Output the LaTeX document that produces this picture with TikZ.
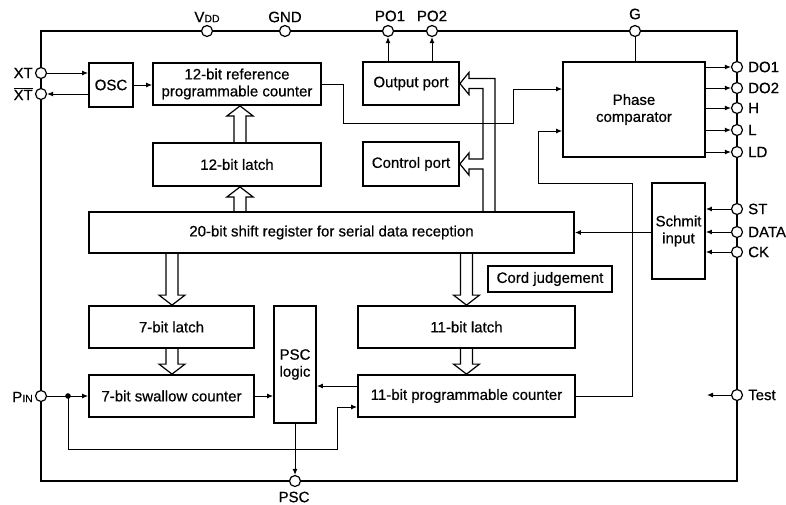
\documentclass[tikz,border=0pt]{standalone}
\usepackage{fontspec}
\setmainfont{Liberation Sans}[FakeBold=0.6]
\usetikzlibrary{arrows.meta,calc}
\newcommand{\lbl}{\fontsize{15}{17}\selectfont}
\newcommand{\sml}{\fontsize{10.5}{10.5}\selectfont}
\tikzset{
 blk/.style={draw,line width=1.8pt,fill=white,inner sep=0pt,align=center,font=\lbl},
 pinc/.style={circle,draw,line width=1.2pt,fill=white,inner sep=0pt,minimum size=11pt},
 wire/.style={line width=1pt},
 arr/.style={wire,-{Latex[length=6pt,width=5pt]}},
 bus/.style={line width=1.2pt},
 plabel/.style={font=\lbl,inner sep=0pt}
}
\newcommand{\busdown}[3]{\draw[bus] let \p1=(#2), \p2=(#3) in
  ({#1pt-6pt},\y1) -- ({#1pt-6pt},{\y2+10pt}) -- ({#1pt-13pt},{\y2+10pt}) -- ({#1pt},\y2) -- ({#1pt+13pt},{\y2+10pt}) -- ({#1pt+6pt},{\y2+10pt}) -- ({#1pt+6pt},\y1);}
\newcommand{\busup}[3]{\draw[bus] let \p1=(#2), \p2=(#3) in
  ({#1pt-6pt},\y1) -- ({#1pt-6pt},{\y2-10pt}) -- ({#1pt-13pt},{\y2-10pt}) -- ({#1pt},\y2) -- ({#1pt+13pt},{\y2-10pt}) -- ({#1pt+6pt},{\y2-10pt}) -- ({#1pt+6pt},\y1);}
\begin{document}
\begin{tikzpicture}[x=1pt,y=-1pt]
\useasboundingbox (0,0) rectangle (786,504);
% frame
\draw[line width=2pt] (41,31) rectangle (737,481);

% blocks
\node[blk,minimum width=44pt,minimum height=44pt] (osc) at (111,85) {OSC};
\node[blk,minimum width=168pt,minimum height=42pt] (ref) at (237,84) {12-bit reference\\programmable counter};
\node[blk,minimum width=96pt,minimum height=43pt] (outp) at (411,83.5) {Output port};
\node[blk,minimum width=96pt,minimum height=44pt] (ctl) at (411,164) {Control port};
\node[blk,minimum width=168pt,minimum height=43pt] (l12) at (237,164.5) {12-bit latch};
\node[blk,minimum width=485pt,minimum height=41pt] (sh) at (331.5,232.5) {20-bit shift register for serial data reception};
\node[blk,minimum width=142pt,minimum height=95pt] (pc) at (634,109.5) {Phase\\comparator};
\node[blk,minimum width=53pt,minimum height=96pt] (sch) at (678.5,231) {Schmit\\input};
\node[blk,minimum width=124pt,minimum height=26pt] (cord) at (550,279) {Cord judgement};
\node[blk,minimum width=165pt,minimum height=42pt] (l7) at (171.5,327) {7-bit latch};
\node[blk,minimum width=165pt,minimum height=42pt] (sw) at (171.5,396) {7-bit swallow counter};
\node[blk,minimum width=42pt,minimum height=117pt] (psc) at (295,364.5) {PSC\\logic};
\node[blk,minimum width=217pt,minimum height=42pt] (l11) at (466.5,327) {11-bit latch};
\node[blk,minimum width=217pt,minimum height=42pt] (c11) at (466.5,396) {11-bit programmable counter};

% hollow bus arrows
\busup{240}{l12.north}{ref.south}
\busup{240}{sh.north}{l12.south}
\busdown{172}{sh.south}{l7.north}
\busdown{172}{l7.south}{sw.north}
\busdown{466.5}{sh.south}{l11.north}
\busdown{466.5}{l11.south}{c11.north}
\draw[bus] let \p1=(outp.east), \p2=(ctl.east), \p3=(sh.north) in
 (495pt,\y3) -- (495pt,{\y1+5pt}) -- ({\x1+9pt},{\y1+5pt}) -- ({\x1+9pt},{\y1+11pt}) -- (\x1,\y1)
 -- ({\x1+9pt},{\y1-11pt}) -- ({\x1+9pt},{\y1-5pt}) -- (483pt,{\y1-5pt}) -- (483pt,{\y2+5pt})
 -- ({\x2+9pt},{\y2+5pt}) -- ({\x2+9pt},{\y2+11pt}) -- (\x2,\y2) -- ({\x2+9pt},{\y2-11pt})
 -- ({\x2+9pt},{\y2-5pt}) -- (483pt,{\y2-5pt}) -- (483pt,\y3);

% pins
\node[pinc] (vdd) at (207,31) {};
\node[pinc] (gnd) at (285,31) {};
\node[pinc] (po1) at (388,31) {};
\node[pinc] (po2) at (432,31) {};
\node[pinc] (g) at (635,31) {};
\node[pinc] (xt) at (41,73) {};
\node[pinc] (xtb) at (41,94) {};
\node[pinc] (pin) at (41,396) {};
\node[pinc] (pscpin) at (295,481) {};
\node[pinc] (do1) at (737,67) {};
\node[pinc] (do2) at (737,88) {};
\node[pinc] (h) at (737,108) {};
\node[pinc] (l) at (737,130) {};
\node[pinc] (ld) at (737,152) {};
\node[pinc] (st) at (737,209) {};
\node[pinc] (data) at (737,232) {};
\node[pinc] (ck) at (737,252) {};
\node[pinc] (test) at (737,395) {};

% pin labels
\node[plabel] (tvdd) at (207,17) {V{\sml DD}};
\node[plabel] (tgnd) at (285,17) {GND};
\node[plabel] (tpo1) at (390,16) {PO1};
\node[plabel] (tpo2) at (432,16) {PO2};
\node[plabel] (tg) at (635,14) {G};
\node[plabel,anchor=east] (txt) at (33,73) {XT};
\node[plabel,anchor=east] (txtb) at (33,94) {$\overline{\hbox{XT}}$};
\node[plabel,anchor=east] (tpin) at (33,397) {P{\sml IN}};
\node[plabel] (tpsc) at (294,497) {PSC};
\node[plabel,anchor=west] (tdo1) at (748,67) {DO1};
\node[plabel,anchor=west] (tdo2) at (748,88) {DO2};
\node[plabel,anchor=west] (th) at (748,108) {H};
\node[plabel,anchor=west] (tl) at (748,130) {L};
\node[plabel,anchor=west] (tld) at (748,152) {LD};
\node[plabel,anchor=west] (tst) at (748,209) {ST};
\node[plabel,anchor=west] (tdata) at (748,232) {DATA};
\node[plabel,anchor=west] (tck) at (748,252) {CK};
\node[plabel,anchor=west] (ttest) at (748,395) {Test};

% connectors
\draw[arr] (xt) -- (osc.west |- xt);
\draw[arr] (osc.west |- xtb) -- (xtb);
\draw[arr] (osc.east) -- (osc.east -| ref.west);
\draw[arr] (outp.north -| po1) -- (po1);
\draw[arr] (outp.north -| po2) -- (po2);
\draw[wire] (g) -- (pc.north -| g);
\foreach \p in {do1,do2,h,l,ld} \draw[arr] (pc.east |- \p) -- (\p);
\foreach \p in {st,data,ck} \draw[arr] (\p) -- (sch.east |- \p);
\draw[arr] (sch.west |- sh.east) -- (sh.east);
\draw[arr] (ref.east) -- (343,84) -- (343,123) -- (513,123) -- (513,89) -- (pc.west |- 513,89);
\draw[arr] (c11.east) -- (632,396) -- (632,183) -- (538,183) -- (538,131) -- (pc.west |- 538,131);
\coordinate (tst1) at (707,395);
\draw[arr] (test) -- (tst1);
\coordinate (dot) at (68,396);
\draw[arr] (pin) -- (sw.west);
\fill (dot) circle (2.8);
\draw[arr] (dot) -- (68,449) -- (337,449) -- (337,407) -- (c11.west |- 337,407);
\draw[arr] (sw.east) -- (sw.east -| psc.west);
\draw[arr] (c11.west |- 0,386) -- (psc.east |- 0,386);
\draw[arr] (psc.south) -- (pscpin);
\end{tikzpicture}
\end{document}
